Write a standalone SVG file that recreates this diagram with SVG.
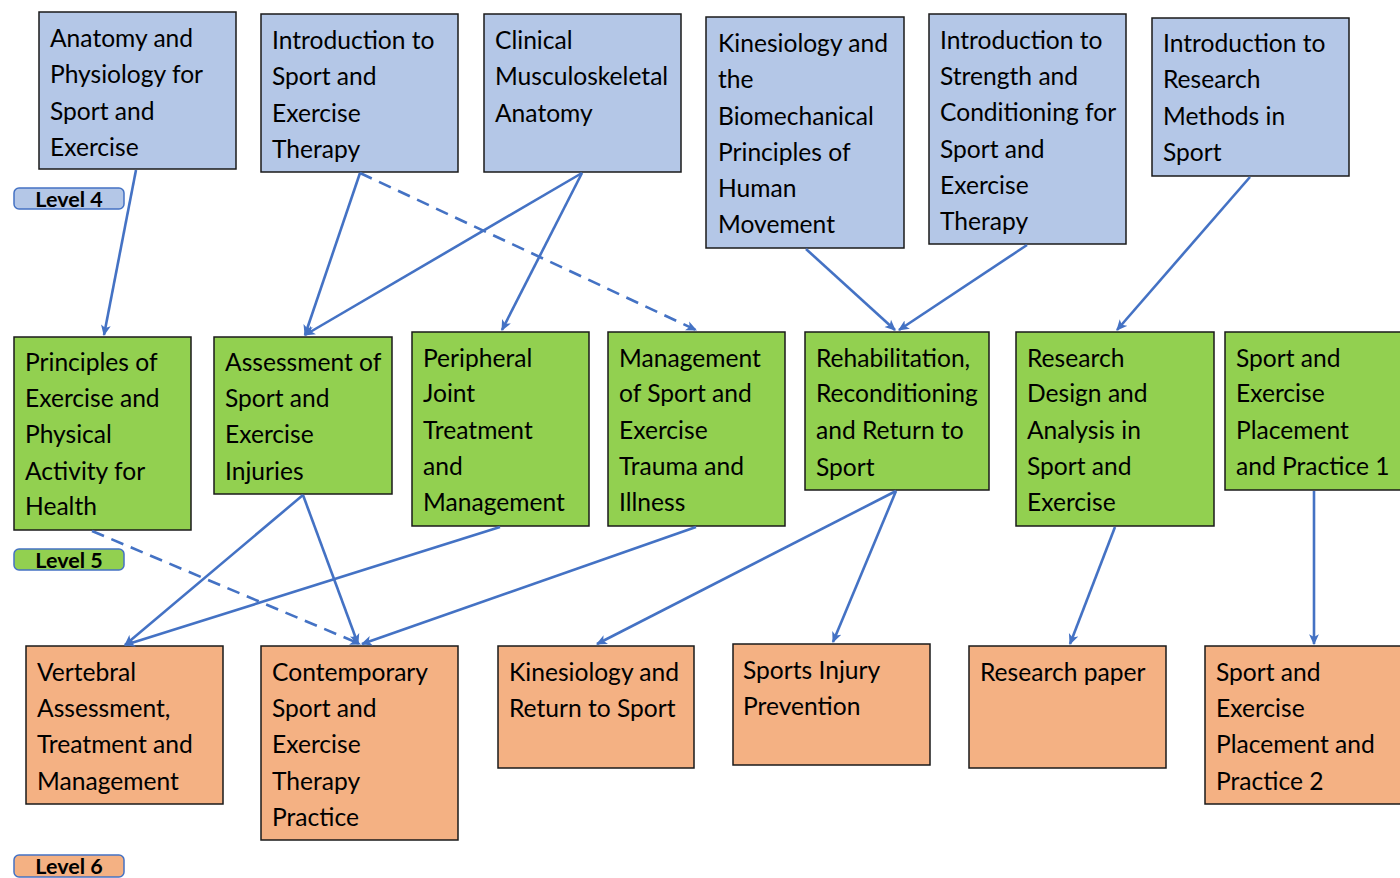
<svg xmlns="http://www.w3.org/2000/svg" width="1400" height="878" viewBox="0 0 1400 878">
<style>
.b{stroke:#1a1a1a;stroke-width:1.5}
.l4{fill:#B4C7E7}
.l5{fill:#92D050}
.l6{fill:#F4B183}
.t{font-family:Lato,"Open Sans","Liberation Sans",sans-serif;font-size:24.6px;fill:#000}
.lv{stroke:#4472C4;stroke-width:1.5}
.lt{font-family:Lato,"Liberation Sans",sans-serif;font-size:21.5px;font-weight:bold;fill:#000;text-anchor:middle}
.c{stroke:#4472C4;stroke-width:2.6;fill:none;marker-end:url(#ah)}
.d{stroke-dasharray:13 8}
</style>
<defs>
<marker id="ah" viewBox="0 0 10 10" refX="9" refY="5" markerWidth="4.2" markerHeight="4.2" orient="auto" markerUnits="strokeWidth">
<path d="M0,0.5 L10,5 L0,9.5 L2.5,5 z" fill="#4472C4"/>
</marker>
</defs>
<rect width="1400" height="878" fill="#fff"/>

<g id="level4"><rect class="l4 lv" x="14" y="188" width="110" height="21" rx="5"/><text class="lt" x="69" y="206.5">Level 4</text></g>
<g id="level5"><rect class="l5 lv" x="14" y="549" width="110" height="21" rx="5"/><text class="lt" x="69" y="567.5">Level 5</text></g>
<g id="level6"><rect class="l6 lv" x="14" y="855" width="110" height="22" rx="5"/><text class="lt" x="69" y="874">Level 6</text></g>

<g id="n1"><rect class="b l4" x="39" y="12" width="197" height="157"/><text class="t"><tspan x="50" y="47">Anatomy and</tspan><tspan x="50" y="83">Physiology for</tspan><tspan x="50" y="120">Sport and</tspan><tspan x="50" y="156">Exercise</tspan></text></g>
<g id="n2"><rect class="b l4" x="261" y="14" width="197" height="158"/><text class="t"><tspan x="272" y="49">Introduction to</tspan><tspan x="272" y="85">Sport and</tspan><tspan x="272" y="122">Exercise</tspan><tspan x="272" y="158">Therapy</tspan></text></g>
<g id="n3"><rect class="b l4" x="484" y="14" width="197" height="158"/><text class="t"><tspan x="495" y="49">Clinical</tspan><tspan x="495" y="85">Musculoskeletal</tspan><tspan x="495" y="122">Anatomy</tspan></text></g>
<g id="n4"><rect class="b l4" x="706" y="17" width="198" height="231"/><text class="t"><tspan x="718" y="52">Kinesiology and</tspan><tspan x="718" y="88">the</tspan><tspan x="718" y="125">Biomechanical</tspan><tspan x="718" y="161">Principles of</tspan><tspan x="718" y="197">Human</tspan><tspan x="718" y="233">Movement</tspan></text></g>
<g id="n5"><rect class="b l4" x="929" y="14" width="197" height="230"/><text class="t"><tspan x="940" y="49">Introduction to</tspan><tspan x="940" y="85">Strength and</tspan><tspan x="940" y="121">Conditioning for</tspan><tspan x="940" y="158">Sport and</tspan><tspan x="940" y="194">Exercise</tspan><tspan x="940" y="230">Therapy</tspan></text></g>
<g id="n6"><rect class="b l4" x="1152" y="18" width="197" height="158"/><text class="t"><tspan x="1163" y="52">Introduction to</tspan><tspan x="1163" y="88">Research</tspan><tspan x="1163" y="125">Methods in</tspan><tspan x="1163" y="161">Sport</tspan></text></g>

<g id="n7"><rect class="b l5" x="14" y="337" width="177" height="193"/><text class="t"><tspan x="25" y="371">Principles of</tspan><tspan x="25" y="407">Exercise and</tspan><tspan x="25" y="443">Physical</tspan><tspan x="25" y="480">Activity for</tspan><tspan x="25" y="515">Health</tspan></text></g>
<g id="n8"><rect class="b l5" x="214" y="337" width="178" height="157"/><text class="t"><tspan x="225" y="371">Assessment of</tspan><tspan x="225" y="407">Sport and</tspan><tspan x="225" y="443">Exercise</tspan><tspan x="225" y="480">Injuries</tspan></text></g>
<g id="n9"><rect class="b l5" x="412" y="332" width="177" height="194"/><text class="t"><tspan x="423" y="367">Peripheral</tspan><tspan x="423" y="402">Joint</tspan><tspan x="423" y="439">Treatment</tspan><tspan x="423" y="475">and</tspan><tspan x="423" y="511">Management</tspan></text></g>
<g id="n10"><rect class="b l5" x="608" y="332" width="177" height="194"/><text class="t"><tspan x="619" y="367">Management</tspan><tspan x="619" y="402">of Sport and</tspan><tspan x="619" y="439">Exercise</tspan><tspan x="619" y="475">Trauma and</tspan><tspan x="619" y="511">Illness</tspan></text></g>
<g id="n11"><rect class="b l5" x="805" y="332" width="184" height="158"/><text class="t"><tspan x="816" y="367">Rehabilitation,</tspan><tspan x="816" y="402">Reconditioning</tspan><tspan x="816" y="439">and Return to</tspan><tspan x="816" y="476">Sport</tspan></text></g>
<g id="n12"><rect class="b l5" x="1016" y="332" width="198" height="194"/><text class="t"><tspan x="1027" y="367">Research</tspan><tspan x="1027" y="402">Design and</tspan><tspan x="1027" y="439">Analysis in</tspan><tspan x="1027" y="475">Sport and</tspan><tspan x="1027" y="511">Exercise</tspan></text></g>
<g id="n13"><rect class="b l5" x="1225" y="332" width="185" height="158"/><text class="t"><tspan x="1236" y="367">Sport and</tspan><tspan x="1236" y="402">Exercise</tspan><tspan x="1236" y="439">Placement</tspan><tspan x="1236" y="475">and Practice 1</tspan></text></g>

<g id="n14"><rect class="b l6" x="26" y="646" width="197" height="158"/><text class="t"><tspan x="37" y="681">Vertebral</tspan><tspan x="37" y="717">Assessment,</tspan><tspan x="37" y="753">Treatment and</tspan><tspan x="37" y="790">Management</tspan></text></g>
<g id="n15"><rect class="b l6" x="261" y="646" width="197" height="194"/><text class="t"><tspan x="272" y="681">Contemporary</tspan><tspan x="272" y="717">Sport and</tspan><tspan x="272" y="753">Exercise</tspan><tspan x="272" y="790">Therapy</tspan><tspan x="272" y="826">Practice</tspan></text></g>
<g id="n16"><rect class="b l6" x="498" y="646" width="196" height="122"/><text class="t"><tspan x="509" y="681">Kinesiology and</tspan><tspan x="509" y="717">Return to Sport</tspan></text></g>
<g id="n17"><rect class="b l6" x="733" y="644" width="197" height="121"/><text class="t"><tspan x="743" y="679">Sports Injury</tspan><tspan x="743" y="715">Prevention</tspan></text></g>
<g id="n18"><rect class="b l6" x="969" y="646" width="197" height="122"/><text class="t"><tspan x="980" y="681">Research paper</tspan></text></g>
<g id="n19"><rect class="b l6" x="1205" y="646" width="205" height="158"/><text class="t"><tspan x="1216" y="681">Sport and</tspan><tspan x="1216" y="717">Exercise</tspan><tspan x="1216" y="753">Placement and</tspan><tspan x="1216" y="790">Practice 2</tspan></text></g>

<g id="connectors">
<line class="c" x1="136" y1="170" x2="104" y2="335"/>
<line class="c" x1="360" y1="173" x2="305" y2="335"/>
<line class="c d" x1="360" y1="173" x2="696" y2="330"/>
<line class="c" x1="582" y1="173" x2="305" y2="335"/>
<line class="c" x1="582" y1="173" x2="502" y2="330"/>
<line class="c" x1="806" y1="249" x2="895" y2="330"/>
<line class="c" x1="1027" y1="245" x2="899" y2="330"/>
<line class="c" x1="1250" y1="177" x2="1117" y2="330"/>
<line class="c d" x1="92" y1="531" x2="360" y2="644"/>
<line class="c" x1="303" y1="495" x2="125" y2="645"/>
<line class="c" x1="303" y1="495" x2="358" y2="644"/>
<line class="c" x1="500" y1="527" x2="125" y2="645"/>
<line class="c" x1="696" y1="527" x2="362" y2="644"/>
<line class="c" x1="896" y1="491" x2="597" y2="644"/>
<line class="c" x1="896" y1="491" x2="833" y2="642"/>
<line class="c" x1="1115" y1="527" x2="1070" y2="644"/>
<line class="c" x1="1314" y1="491" x2="1314" y2="644"/>
</g>
</svg>
